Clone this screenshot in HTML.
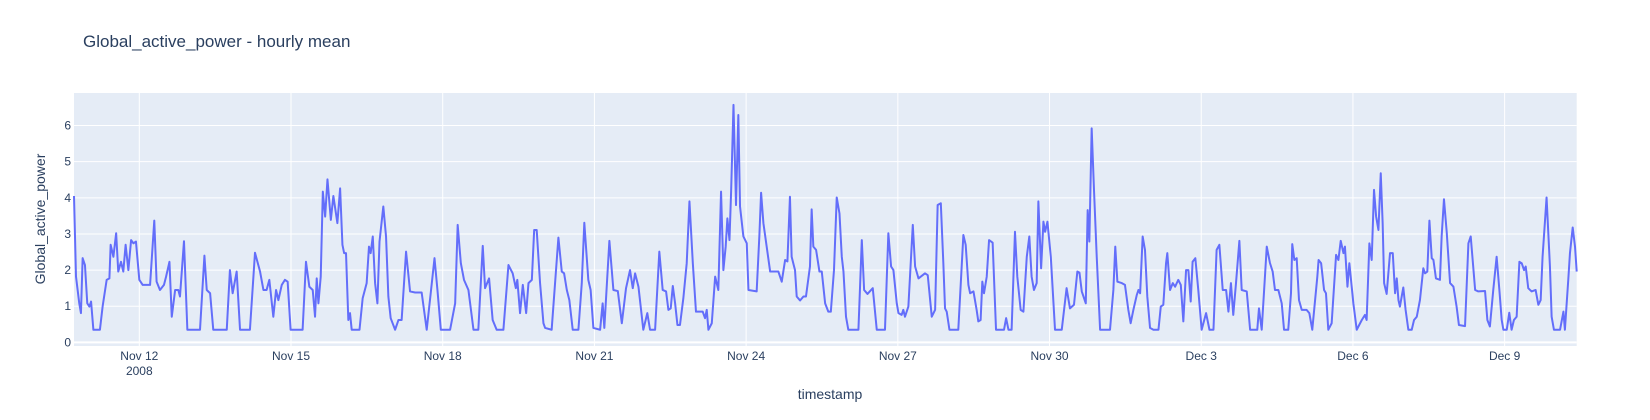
<!DOCTYPE html>
<html>
<head>
<meta charset="utf-8">
<style>
  html,body{margin:0;padding:0;background:#fff;}
  svg{display:block;font-family:"Liberation Sans",Arial,sans-serif;}
</style>
</head>
<body>
<svg id="chart" width="1650" height="420">
  <text x="83" y="47" font-size="17" fill="#2a3f5f">Global_active_power - hourly mean</text>
  <rect x="74" y="93" width="1502.7" height="253" fill="#e5ecf6"></rect>
  <g id="grid"></g>
  <g id="yticks"></g>
  <g id="xticks"></g>
  <path id="series" fill="none" stroke="#636efa" stroke-width="2" stroke-linejoin="round"></path>
  <text x="830" y="399" font-size="14" fill="#2a3f5f" text-anchor="middle">timestamp</text>
  <text transform="translate(45,219) rotate(-90)" font-size="14" fill="#2a3f5f" text-anchor="middle">Global_active_power</text>
</svg>
<script>
// hours since 2008-11-10 17:00
const hours = [0,0.95,2.5,3.3,4.1,5.2,6.3,7.3,8.1,9.2,12.3,13.6,15.5,16.8,17.4,18.7,20,21,22.3,23.4,24.5,25.8,27.1,28.2,29.4,31,32.6,36.1,38.1,39.2,40.8,42.7,43.7,45.3,46.4,48,49.5,50.3,52.2,53.8,59.8,61.9,63,64.6,66.1,72.5,74,75.3,77.2,78.8,83.5,85.9,88.3,89.9,91.4,92.7,94.6,95.9,97,98.6,100.1,101.4,102.8,108.5,110.1,
111.7,113.3,114.4,115.2,116,117.1,118.1,119.2,120.3,121.9,123.1,125,126.3,127.4,128.2,129.1,130.2,131,131.8,135.5,137,138.9,140,140.8,141.8,142.9,144,145,146.8,148.1,149.2,150.3,152.4,154,155.5,157.6,159.5,161.9,165,167.4,169.3,171.1,172.5,174.1,178.5,180.9,182.1,183.6,185.1,187.2,189.6,191.9,194,195.1,197,198.7,200.6,203.8,206.2,208.2,209.7,210.4,211.7,213,214.6,215.7,217.3,218.4,219.6,221.2,222.8,
223.6,226.7,229.9,231.5,232.6,233.9,235.1,236.7,239.4,241,242.2,244.1,245.2,246.5,249.7,250.9,251.7,254.1,256,258.1,260,262,263.9,265.2,266.3,267.9,270.2,272.1,273.4,275.8,277.8,279.4,281,282.1,283.2,284.2,285.3,286.4,287.6,289.2,290.8,292.1,293.7,295.2,298.4,299.5,300.3,301.1,302.7,304.3,305.8,307.1,308.2,309.3,310.1,311.1,311.9,313,314.2,315.3,316.1,317.7,319.3,320.1,324,325.3,326.1,327.2,330.4,332,334.3,335.9,337.5,338.6,339.8,
340.6,342.2,343,344.6,346.2,347.4,349.3,350.1,350.9,352.2,353.8,354.9,356.5,358,359.2,360.7,362,363.3,364.4,365.2,366.4,367.5,372.3,373.9,375,376.6,379.1,381,384.9,386.5,387.8,388.9,390.5,391.3,392.8,393.6,394.4,396,398.1,399.2,400.8,403.9,405.2,407.1,408.7,409.9,411.4,412.6,413.4,414.2,415.5,419.7,422.1,423.2,424.5,425.3,426.9,428.4,429.2,430.3,431.1,431.9,433.2,434.3,436,437.6,441.4,442.4,443.5,445,446.6,447.7,449.3,450.6,452.2,453.4,
454.5,455.6,456.9,457.7,459,460.1,460.9,462,463.6,465.6,468.8,471.1,472.7,474.6,476.2,477.2,478.3,480.2,481.1,481.9,483,484.1,485.4,487,491.7,493.3,494.2,495.2,497.3,498.8,500.4,501.5,502.8,504.4,505.2,506,507.2,508.3,509.4,510.7,512.3,514.7,515.8,517,518.3,518.9,520.2,521.5,522.6,524.1,525.3,526.5,527.8,528.9,530,530.9,532.2,533.6,535.2,537.3,538.9,540.8,542.3,543.6,545.2,546.8,547.9,549.1,550.2,551.5,553.1,554.2,556.6,558.2,561.6,562.4,563.7,566.1,567.6,
568.9,570,571.6,573.2,574.3,576.3,577.6,578.2,579.2,580.3,581.4,582.7,585,586.3,587.7,590.1,590.7,591.9,593.3,594.2,595.3,596.9,599,600.1,601.2,602.5,603.2,604.4,605.3,607.2,608.8,611.2,612.7,613.5,614.8,615.9,617,618,619.1,620.2,621.1,621.8,623,624.6,625.9,627,627.8,628.6,629.3,630.9,632,633.3,634.9,636,637.3,638.8,640.4,641.2,642.3,643.3,644.4,645.2,646.4,648.3,649.1,650.2,651.5,653.1,654.7,656.2,657.3,660.2,661.8,662.9,665,666.5,
669.7,670.8,672,673.6,675.2,676.5,677.6,678.4,680,681.2,682.3,683.4,684.7,686,687.1,688.2,689,690.2,691.8,693.7,695,696.1,697,698.9,700.5,701.3,702.4,705.3,706.9,707.6,709.2,710,711.3,712.4,713.2];
const power = [4.05,1.82,1.08,0.81,2.33,2.14,1.08,0.99,1.13,0.35,0.35,1.0,1.73,1.77,2.7,2.37,3.02,1.96,2.23,1.96,2.7,2.0,2.83,2.74,2.79,1.73,1.59,1.59,3.37,1.68,1.45,1.59,1.82,2.23,0.71,1.45,1.45,1.27,2.8,0.35,0.35,2.4,1.45,1.36,0.35,0.35,2.0,1.36,1.96,0.35,0.35,2.48,1.96,1.45,1.45,1.73,0.71,1.45,1.17,1.59,1.73,1.68,0.35,0.35,2.23,
1.54,1.45,0.71,1.77,1.08,1.82,4.17,3.48,4.51,3.39,4.05,3.3,4.26,2.7,2.47,2.47,0.62,0.81,0.35,0.35,1.22,1.64,2.65,2.47,2.93,1.64,1.08,2.79,3.76,2.93,1.27,0.67,0.35,0.62,0.62,2.51,1.41,1.38,1.38,0.35,1.36,2.33,1.45,0.35,0.35,1.08,3.25,2.19,1.73,1.45,0.35,0.35,2.67,1.5,1.77,0.62,0.35,0.35,2.14,1.91,1.5,1.73,0.81,1.59,0.81,1.64,1.73,3.11,3.11,1.64,0.53,
0.4,0.35,2.9,1.96,1.91,1.45,1.17,0.35,0.35,1.64,3.31,1.73,1.45,0.4,0.35,1.08,0.4,2.81,1.45,1.42,0.53,1.5,2.0,1.5,1.91,1.54,0.35,0.81,0.35,0.35,2.51,1.45,1.41,0.9,0.94,1.56,1.08,0.48,0.48,1.22,2.19,3.9,2.19,0.85,0.85,0.67,0.9,0.35,0.53,1.82,1.45,4.17,2.0,2.65,3.43,2.83,4.22,6.57,3.8,6.29,3.76,2.93,2.74,1.45,1.41,2.97,4.14,3.3,1.96,1.96,1.96,1.68,2.28,2.24,4.03,
2.37,2.0,1.27,1.16,1.27,1.27,2.1,3.68,2.65,2.56,1.96,1.96,1.08,0.85,0.85,2.0,4.01,3.57,2.37,1.96,0.71,0.35,0.35,2.83,1.45,1.34,1.5,0.35,0.35,3.02,2.1,2.0,1.08,0.81,0.76,0.9,0.71,0.99,3.25,2.1,1.77,1.91,1.86,0.71,0.9,3.8,3.85,2.19,0.94,0.85,0.35,0.35,2.97,2.7,1.59,1.36,1.41,0.9,0.58,0.62,1.68,1.36,1.82,2.83,2.76,0.35,0.35,0.67,0.35,0.35,3.06,1.82,0.9,0.85,2.37,2.93,
1.82,1.45,1.64,3.9,2.05,3.34,3.06,3.34,2.37,0.35,0.35,1.5,0.94,1.04,1.96,1.93,1.41,1.08,3.66,2.79,5.92,4.22,2.37,0.35,0.35,1.45,2.65,1.68,1.64,1.59,0.9,0.53,0.9,1.31,1.45,1.36,2.93,2.56,1.27,0.4,0.35,0.35,0.99,1.04,2.19,2.47,1.45,1.64,1.54,1.73,1.59,0.58,2.0,2.0,1.13,2.23,2.33,1.45,0.35,0.81,0.35,0.35,2.56,2.7,1.45,1.45,0.85,1.64,0.76,1.64,2.81,1.45,1.41,0.35,0.35,0.94,0.35,2.65,2.2,
1.96,1.45,1.45,1.08,0.35,0.35,1.36,2.72,2.28,2.33,1.17,0.9,0.9,0.81,0.35,1.82,2.28,2.19,1.45,1.36,0.35,0.53,2.42,2.28,2.81,2.47,2.65,1.54,2.19,1.08,0.35,0.62,0.76,0.62,2.74,2.28,4.22,3.48,3.11,4.68,3.3,1.64,1.34,2.47,2.47,1.36,1.77,1.17,0.99,1.52,0.9,0.35,0.35,0.62,0.71,1.17,2.05,1.91,1.96,3.37,2.33,2.28,1.77,1.73,2.93,3.96,3.06,1.64,1.54,0.99,0.48,0.45,2.74,2.93,1.45,1.41,
1.42,0.62,0.44,1.45,2.37,1.45,0.62,0.35,0.35,0.82,0.35,0.62,0.71,2.23,2.19,2.0,2.1,1.5,1.41,1.45,1.04,1.17,2.37,4.01,2.1,0.71,0.35,0.35,0.85,0.35,1.73,2.47,3.18,2.65,1.96];
const yTickValues = [0,1,2,3,4,5,6];
const xTickDays = [0,3,6,9,12,15,18,21,24,27]; // days after Nov 12 2008 00:00
const xTickLabels = ["Nov 12","Nov 15","Nov 18","Nov 21","Nov 24","Nov 27","Nov 30","Dec 3","Dec 6","Dec 9"];
const firstTickHour = 31; // Nov 12 00:00 in hours from series start

const PL=74, PT=93, PW=1502.7, PH=253;
const xMin=0, xMax=hours[hours.length-1];
const yMin=-0.1, yMax=6.9;
const NS='http://www.w3.org/2000/svg';
function xs(h){return PL+(h-xMin)/(xMax-xMin)*PW;}
function ys(v){return PT+PH-(v-yMin)/(yMax-yMin)*PH;}

const grid=document.getElementById('grid');
const yt=document.getElementById('yticks');
const xt=document.getElementById('xticks');

yTickValues.forEach(v=>{
  const l=document.createElementNS(NS,'line');
  l.setAttribute('x1',PL);l.setAttribute('x2',PL+PW);
  l.setAttribute('y1',ys(v));l.setAttribute('y2',ys(v));
  l.setAttribute('stroke','#fff');l.setAttribute('stroke-width',v===0?2:1);
  
  
  grid.appendChild(l);
  const t=document.createElementNS(NS,'text');
  t.setAttribute('x',PL-3);t.setAttribute('y',ys(v)+4);
  t.setAttribute('text-anchor','end');t.setAttribute('font-size','12');t.setAttribute('fill','#2a3f5f');
  t.textContent=String(v);
  
  
  yt.appendChild(t);
});

xTickDays.forEach((d,i)=>{
  const x=xs(firstTickHour+d*24);
  const l=document.createElementNS(NS,'line');
  l.setAttribute('x1',x);l.setAttribute('x2',x);
  l.setAttribute('y1',PT);l.setAttribute('y2',PT+PH);
  l.setAttribute('stroke','#fff');l.setAttribute('stroke-width',1);
  
  
  grid.appendChild(l);
  const t=document.createElementNS(NS,'text');
  t.setAttribute('x',x);t.setAttribute('y',360);
  t.setAttribute('text-anchor','middle');t.setAttribute('font-size','12');t.setAttribute('fill','#2a3f5f');
  t.textContent=xTickLabels[i];
  
  
  xt.appendChild(t);
  if(i===0){
    const y2=document.createElementNS(NS,'text');
    y2.setAttribute('x',x);y2.setAttribute('y',375);
    y2.setAttribute('text-anchor','middle');y2.setAttribute('font-size','12');y2.setAttribute('fill','#2a3f5f');
    y2.textContent='2008';
    
    
    xt.appendChild(y2);
  }
});

let d='';
const n=Math.min(hours.length,power.length);
for(let i=0;i<n;i++){
  d+=(i?'L':'M')+xs(hours[i]).toFixed(2)+','+ys(power[i]).toFixed(2);
}
document.getElementById('series').setAttribute('d',d);
</script>
</body>
</html>
